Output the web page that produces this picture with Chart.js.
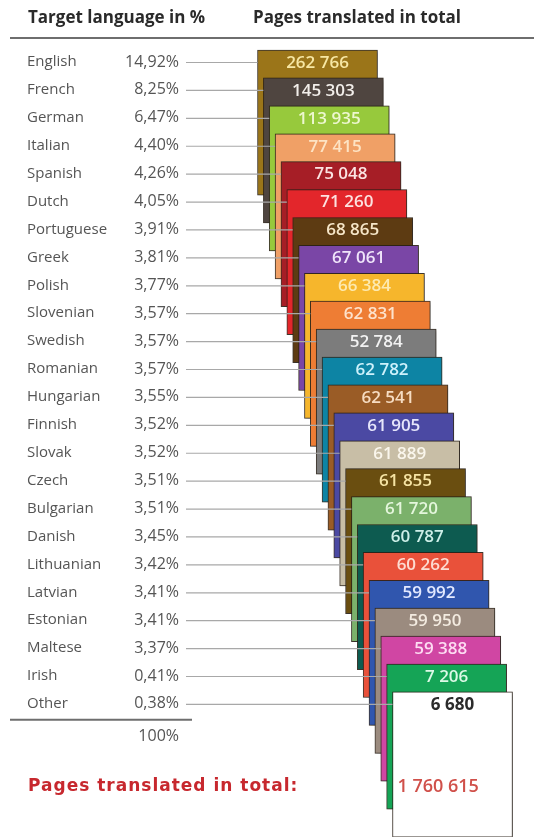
<!DOCTYPE html>
<html>
<head>
<meta charset="utf-8">
<script src="https://cdn.jsdelivr.net/npm/chart.js@4"></script>
<style>
  html, body { margin: 0; padding: 0; background: #fff; }
  #wrap { width: 534px; height: 837px; }
</style>
</head>
<body>
<div id="wrap"><canvas id="pagesChart" width="534" height="837"></canvas></div>
<script>
const languages = [
  "English", "French", "German", "Italian", "Spanish", "Dutch", "Portuguese",
  "Greek", "Polish", "Slovenian", "Swedish", "Romanian", "Hungarian", "Finnish",
  "Slovak", "Czech", "Bulgarian", "Danish", "Lithuanian", "Latvian", "Estonian",
  "Maltese", "Irish", "Other",
];
const shares = [
  14.92, 8.25, 6.47, 4.40, 4.26, 4.05, 3.91, 3.81, 3.77, 3.57, 3.57, 3.57,
  3.55, 3.52, 3.52, 3.51, 3.51, 3.45, 3.42, 3.41, 3.41, 3.37, 0.41, 0.38,
];
const pages = [
  262766, 145303, 113935, 77415, 75048, 71260, 68865, 67061, 66384, 62831,
  52784, 62782, 62541, 61905, 61889, 61855, 61720, 60787, 60262, 59992,
  59950, 59388, 7206, 6680,
];
const totalShare = 100;
const totalPages = 1760615;

const cardColors = [
  "#9b7519", "#4f4540", "#97c93c", "#f0a066", "#a61e26", "#e3262b", "#5d3b12",
  "#7a46a6", "#f6b62c", "#ee7d34", "#7c7c7c", "#0d84a4", "#9a5c26", "#4b49a3",
  "#c8bea6", "#6a4e10", "#7bb16b", "#0d5b50", "#e9513a", "#3056ae", "#9b8b7f",
  "#d046a3", "#15a456", "#ffffff",
];
const textColors = [
  "#f7e7a4", "#f2eeea", "#edf7cf", "#fde3c4", "#fbe4e2", "#fde2e0", "#f6e6c8",
  "#efe4fa", "#fdeab0", "#fde2cc", "#f2f2f2", "#cdf1fb", "#f6dcc2", "#e6e6fb",
  "#faf6ec", "#f6e4a4", "#e4f6dc", "#cdefe8", "#fddcd2", "#e2e9ff", "#f3ebe0",
  "#fddcf2", "#dcf9e6", "#2b2b2b",
];

// card layout, in axis units: one unit per row / per step to the right
const rowPx = 27.91;
const firstRowPx = 62;
const stepPx = 5.87;
const firstCardPx = 317.5;
const cardDepth = 5.2;
const cardTop = 0.43;

const W = 534, H = 837;
const fmtPages = (n) => String(n).replace(/\B(?=(\d{3})+(?!\d))/g, " ");
const fmtShare = (v) => v.toFixed(2).replace(".", ",") + "%";

const cardText = {
  id: "cardText",
  beforeDatasetsDraw(chart) {
    const ctx = chart.ctx;
    ctx.save();
    ctx.shadowColor = "rgba(0,0,0,0.28)";
    ctx.shadowBlur = 4;
    ctx.shadowOffsetX = 2;
    ctx.shadowOffsetY = 1;
  },
  afterDatasetsDraw(chart) {
    const ctx = chart.ctx;
    ctx.restore();
    const y = chart.scales.y;
    const bars = chart.getDatasetMeta(0).data;

    ctx.save();
    // headers
    ctx.fillStyle = "#2a2a2a";
    ctx.font = "bold 17px 'Open Sans'";
    ctx.textBaseline = "middle";
    ctx.textAlign = "left";
    ctx.fillText("Target language in %", 28, 18);
    ctx.fillText("Pages translated in total", 253, 18);
    ctx.strokeStyle = "#6e6e6e";
    ctx.lineWidth = 2;
    ctx.beginPath();
    ctx.moveTo(10, 38);
    ctx.lineTo(W, 38);
    ctx.stroke();

    // rows: language, share, connector, value on the card
    languages.forEach((lang, i) => {
      const yy = y.getPixelForValue(i);
      const bar = bars[i];
      ctx.fillStyle = "#555";
      ctx.font = "15px 'Open Sans'";
      ctx.textAlign = "left";
      ctx.fillText(lang, 27, yy);
      ctx.font = "16px 'Open Sans'";
      ctx.textAlign = "right";
      ctx.fillText(fmtShare(shares[i]), 179, yy);

      ctx.strokeStyle = "#a8a8a8";
      ctx.lineWidth = 1.2;
      ctx.beginPath();
      ctx.moveTo(186, yy + 0.5);
      ctx.lineTo(bar.x - bar.width / 2, yy + 0.5);
      ctx.stroke();

      ctx.fillStyle = textColors[i];
      ctx.font = (i === languages.length - 1 ? "bold" : "600") + " 17px 'Open Sans'";
      ctx.textAlign = "center";
      ctx.fillText(fmtPages(pages[i]), bar.x, yy + 1);
    });

    // totals
    const last = languages.length;
    ctx.strokeStyle = "#6e6e6e";
    ctx.lineWidth = 2;
    ctx.beginPath();
    ctx.moveTo(10, y.getPixelForValue(last - 0.43));
    ctx.lineTo(192, y.getPixelForValue(last - 0.43));
    ctx.stroke();

    ctx.fillStyle = "#555";
    ctx.font = "16px 'Open Sans'";
    ctx.textAlign = "right";
    ctx.fillText(totalShare + "%", 179, y.getPixelForValue(last + 0.15));

    const yTotal = y.getPixelForValue(last + 1.97);
    ctx.fillStyle = "#c7282e";
    ctx.font = "bold 17px 'DejaVu Sans'";
    ctx.letterSpacing = "1px";
    ctx.textAlign = "left";
    ctx.fillText("Pages translated in total:", 28, yTotal);
    ctx.letterSpacing = "0px";
    ctx.font = "600 18px 'Open Sans'";
    ctx.fillStyle = "#d0504a";
    const lastBar = bars[last - 1];
    ctx.fillText(fmtPages(totalPages), lastBar.x - lastBar.width / 2 + 5, yTotal);
    ctx.restore();
  },
};

const ctx = document.getElementById("pagesChart").getContext("2d");
new Chart(ctx, {
  type: "bar",
  data: {
    labels: languages,
    datasets: [
      {
        data: languages.map((lang, i) => ({
          x: i,
          y: [i - cardTop, i - cardTop + cardDepth],
        })),
        backgroundColor: cardColors,
        borderColor: "rgba(45,35,25,0.9)",
        borderWidth: 1,
        borderSkipped: false,
        barThickness: 120,
      },
    ],
  },
  options: {
    responsive: false,
    animation: false,
    layout: { padding: 0 },
    plugins: {
      legend: { display: false },
      tooltip: { enabled: false },
    },
    scales: {
      x: {
        type: "linear",
        display: false,
        offset: false,
        min: -firstCardPx / stepPx,
        max: (W - firstCardPx) / stepPx,
      },
      y: {
        type: "linear",
        display: false,
        reverse: true,
        min: -firstRowPx / rowPx,
        max: (H - firstRowPx) / rowPx,
      },
    },
  },
  plugins: [cardText],
});
</script>
</body>
</html>
